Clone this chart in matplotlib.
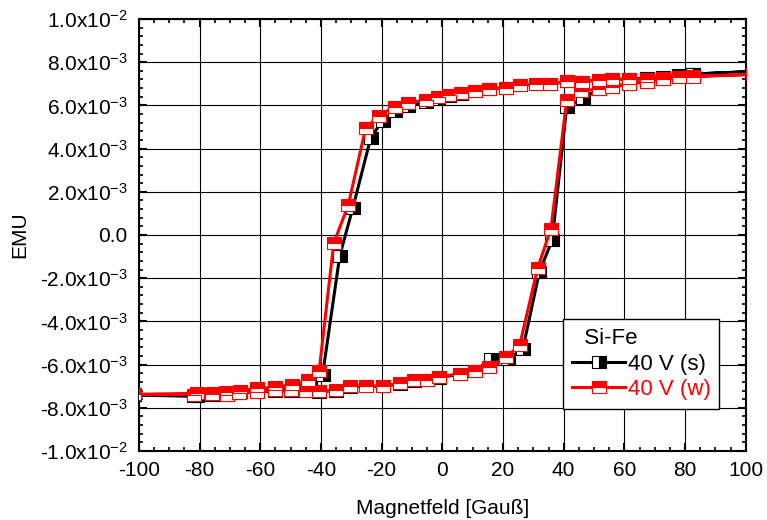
import numpy as np
import matplotlib
matplotlib.use("Agg")
import matplotlib.pyplot as plt
from matplotlib.markers import MarkerStyle
from matplotlib.transforms import Affine2D
from matplotlib.ticker import MultipleLocator, FuncFormatter

# Hysteresis loop, Si-Fe sample at 40 V; field in Gauss, moment in 1e-3 EMU
# (w) series: down sweep +100 -> -100, then up sweep -100 -> +100
field_w_down = [102.5, 82.6, 78, 72.6, 67.5, 61.4, 56, 51.5, 46, 41, 35.6, 31, 25.6, 21,
                15.3, 10.8, 6.3, 2.3, -1.5, -5.5, -11.3, -15.7, -21, -25.3, -31, -35.8,
                -40.6, -44.4, -49.6, -55, -61, -66.7, -71.2, -75.6, -81, -101.5]
emu_w_down = [7.44, 7.35, 7.33, 7.25, 7.22, 7.2, 7.2, 7.18, 7.1, 7.12, 6.98, 6.98, 6.94, 6.82,
              6.76, 6.68, 6.56, 6.48, 6.38, 6.25, 6.13, 5.94, 5.51, 4.94, 1.39, -0.38,
              -6.28, -6.73, -6.95, -7.05, -7.1, -7.2, -7.25, -7.3, -7.33, -7.38]
field_w_up = [-101.5, -82, -76, -71, -67, -61, -55, -50, -45, -40.6, -35, -30.6, -25.2, -19.7,
              -13.9, -9.5, -5.1, -1.2, 5.9, 10.9, 15.5, 20.9, 25.5, 31.4, 35.8, 41, 45.8,
              51.8, 55.9, 61.4, 67.5, 72.6, 78, 82.6, 102.5]
emu_w_up = [-7.38, -7.39, -7.36, -7.39, -7.31, -7.25, -7.18, -7.16, -7.2, -7.22, -7.18, -7.0,
            -7.0, -7.0, -6.87, -6.71, -6.71, -6.56, -6.42, -6.28, -6.1, -5.67, -5.1, -1.54,
            0.28, 6.25, 6.68, 6.75, 6.85, 7.0, 7.1, 7.2, 7.3, 7.33, 7.44]

# (s) series
field_s_down = [102.5, 82.6, 78, 72.6, 67.5, 61.4, 56, 51.5, 46, 41, 35.6, 31, 25.6, 21,
                15.3, 10.8, 6.3, 2.3, -1.5, -5.5, -11.3, -15.7, -19.7, -23.6, -29.5, -33.8,
                -39.5, -43.5, -49.6, -55, -61, -66.7, -71.2, -75.6, -81, -101.5]
emu_s_down = [7.57, 7.45, 7.4, 7.3, 7.25, 7.22, 7.2, 7.18, 7.1, 7.12, 6.98, 6.98, 6.94, 6.82,
              6.76, 6.68, 6.54, 6.45, 6.3, 6.15, 5.95, 5.75, 5.3, 4.5, 1.25, -0.95,
              -6.5, -6.85, -7.0, -7.1, -7.15, -7.25, -7.3, -7.35, -7.45, -7.42]
field_s_up = [-101.5, -82, -76, -71, -67, -61, -55, -50, -45, -40.6, -35, -30.6, -25.2, -19.7,
              -13.9, -9.5, -5.1, -1.2, 5.9, 10.9, 16, 21.5, 26.5, 32, 36.2, 41, 46.5,
              51.8, 55.9, 61.4, 67.5, 72.6, 78, 82.6, 102.5]
emu_s_up = [-7.42, -7.45, -7.4, -7.4, -7.33, -7.27, -7.22, -7.2, -7.22, -7.25, -7.2, -7.02,
            -7.0, -7.0, -6.9, -6.75, -6.72, -6.6, -6.45, -6.3, -5.72, -5.75, -5.3, -1.7,
            -0.25, 5.94, 6.34, 6.75, 6.85, 7.0, 7.1, 7.22, 7.35, 7.45, 7.57]

plt.rcParams['font.family'] = ['Liberation Sans', 'DejaVu Sans']
plt.rcParams['mathtext.fontset'] = 'custom'
plt.rcParams['mathtext.rm'] = 'Liberation Sans'
plt.rcParams['mathtext.default'] = 'regular'
plt.rcParams['axes.unicode_minus'] = False


def emu_label(v, pos):
    if abs(v) < 1e-12:
        return '0.0'
    exp = int(np.floor(np.log10(abs(v)) + 1e-9))
    mant = v / 10 ** exp
    return '%.1fx10$^{%d}$' % (mant, exp)


fig = plt.figure(figsize=(7.67, 5.2), dpi=100)
ax = fig.add_axes([0.1812, 0.1327, 0.7910, 0.8308])

# wide rectangular half-filled markers
rect = Affine2D().scale(1.3, 1.0)
mk_s = MarkerStyle('s', fillstyle='right', transform=rect)
mk_w = MarkerStyle('s', fillstyle='top', transform=rect)

x_s = np.array(field_s_down + field_s_up)
y_s = np.array(emu_s_down + emu_s_up) * 1e-3
x_w = np.array(field_w_down + field_w_up)
y_w = np.array(emu_w_down + emu_w_up) * 1e-3

ax.plot(x_s, y_s, color='black', lw=2.2, marker=mk_s, ms=8,
        mfc='black', mfcalt='white', mec='black', mew=0.8, label='40 V (s)', zorder=3)
ax.plot(x_w, y_w, color='red', lw=2.2, marker=mk_w, ms=8,
        mfc='red', mfcalt='white', mec='red', mew=0.8, label='40 V (w)', zorder=4)

ax.set_xlim(-100, 100)
ax.set_ylim(-1.0e-2, 1.0e-2)
ax.xaxis.set_major_locator(MultipleLocator(20))
ax.xaxis.set_minor_locator(MultipleLocator(5))
ax.yaxis.set_major_locator(MultipleLocator(2e-3))
ax.yaxis.set_minor_locator(MultipleLocator(4e-4))
ax.yaxis.set_major_formatter(FuncFormatter(emu_label))

ax.set_axisbelow(True)
ax.grid(True, which='major', color='black', lw=0.8)
ax.tick_params(which='both', direction='in', top=True, right=True, labelsize=15)
ax.tick_params(which='major', length=6, width=1.5)
ax.tick_params(axis='x', which='major', pad=7)
ax.tick_params(axis='y', which='major', pad=8)
ax.tick_params(which='minor', length=3, width=1.2)
for sp in ax.spines.values():
    sp.set_linewidth(1.5)

ax.set_xlabel('Magnetfeld [Gauß]', fontsize=15, labelpad=14)
ax.set_ylabel('EMU', fontsize=15, labelpad=8)

leg = ax.legend(title='  Si-Fe', loc='upper left', bbox_to_anchor=(0.699, 0.305),
                borderaxespad=0, fontsize=16, title_fontsize=16, fancybox=False,
                framealpha=1, edgecolor='black', handlelength=2.4, handletextpad=0.1,
                labelspacing=0.2, borderpad=0.4, alignment='left', labelcolor='linecolor')
leg.get_frame().set_linewidth(1.0)

fig.savefig('out.png', dpi=100)
